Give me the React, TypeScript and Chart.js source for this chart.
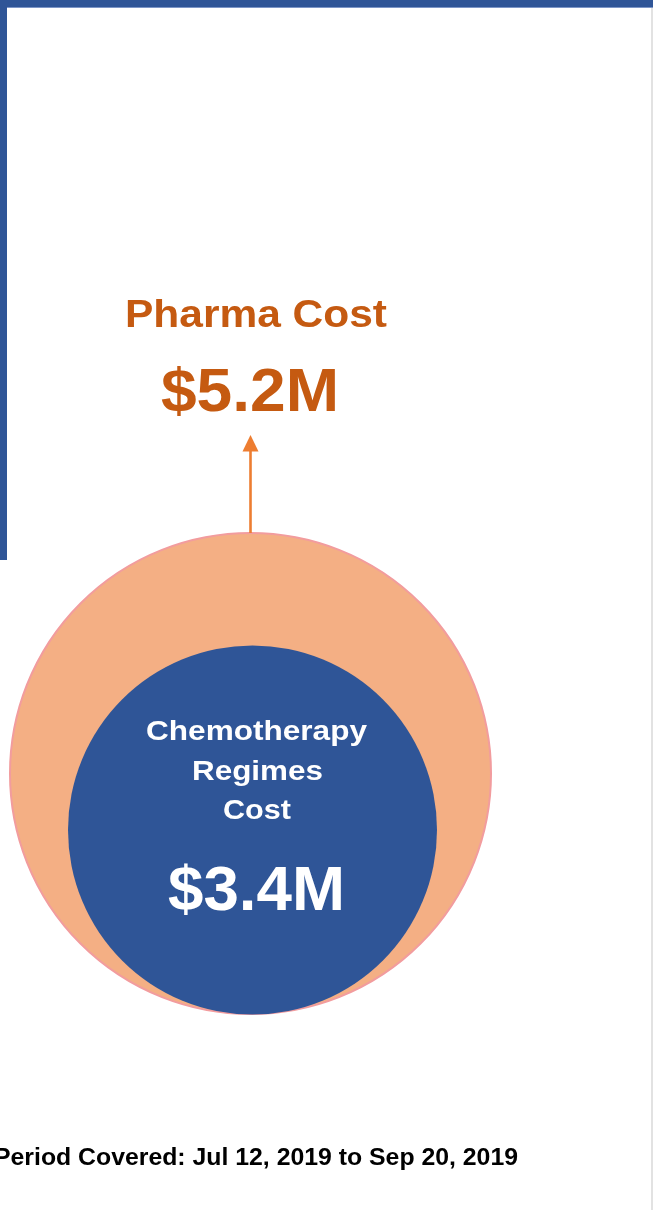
import React, { useEffect, useRef } from "react";
import { Chart, registerables } from "chart.js";

Chart.register(...registerables);

// ---- data ----
const categories = ["Pharma Cost", "Chemotherapy Regimes Cost"];
const values = [5.2, 3.4]; // in $M
const valueLabels = values.map((v) => `$${v.toFixed(1)}M`);
const titleLines = [["Pharma Cost"], ["Chemotherapy", "Regimes", "Cost"]];
const periodLabel = "Period Covered: Jul 12, 2019 to Sep 20, 2019";

// ---- layout / style (not data) ----
const W = 653;
const H = 1210;
const centers = [
  { x: 250.5, y: 773.5 },
  { x: 252.5, y: 830 },
];
const radii = [240.5, 184.5];
const fills = ["#F4AF84", "#2F5597"];
const borders = ["#F29C9E", "#2F5597"];
const FONT = '"Liberation Sans", Arial, Helvetica, sans-serif';

function drawFit(
  ctx: CanvasRenderingContext2D,
  text: string,
  left: number,
  right: number,
  baseline: number,
  size: number,
  color: string
) {
  ctx.save();
  ctx.font = `bold ${size}px ${FONT}`;
  ctx.fillStyle = color;
  ctx.textAlign = "left";
  ctx.textBaseline = "alphabetic";
  const w = ctx.measureText(text).width;
  ctx.translate(left, baseline);
  ctx.scale((right - left) / w, 1);
  ctx.fillText(text, 0, 0);
  ctx.restore();
}

const overlayPlugin = {
  id: "overlay",
  afterDatasetsDraw(chart: any) {
    const ctx: CanvasRenderingContext2D = chart.ctx;
    const outer = chart.getDatasetMeta(0).data[0];
    const outerR = radii[0];
    const topY = outer.y - outerR;

    // arrow
    ctx.save();
    ctx.strokeStyle = "#ED7D31";
    ctx.fillStyle = "#ED7D31";
    ctx.lineWidth = 2.6;
    ctx.beginPath();
    ctx.moveTo(outer.x, topY);
    ctx.lineTo(outer.x, 450);
    ctx.stroke();
    ctx.beginPath();
    ctx.moveTo(outer.x, 435);
    ctx.lineTo(outer.x - 8, 451.5);
    ctx.lineTo(outer.x + 8, 451.5);
    ctx.closePath();
    ctx.fill();
    ctx.restore();

    // outer labels
    drawFit(ctx, titleLines[0][0], 125, 387, 327, 38, "#C55A11");
    drawFit(ctx, valueLabels[0], 161, 339, 411, 62, "#C55A11");

    // inner labels
    drawFit(ctx, titleLines[1][0], 146, 367, 739.5, 28, "#FFFFFF");
    drawFit(ctx, titleLines[1][1], 192, 323, 780, 28, "#FFFFFF");
    drawFit(ctx, titleLines[1][2], 223, 291, 818.5, 28, "#FFFFFF");
    drawFit(ctx, valueLabels[1], 168, 345, 910, 63, "#FFFFFF");

    // period footer
    drawFit(ctx, periodLabel, -6, 518, 1165, 23, "#000000");
  },
};

export default function App() {
  const ref = useRef<HTMLCanvasElement | null>(null);

  useEffect(() => {
    if (!ref.current) return;
    const chart = new Chart(ref.current, {
      type: "scatter",
      data: {
        datasets: categories.map((label, i) => ({
          label,
          data: [{ x: centers[i].x, y: centers[i].y, v: values[i] } as any],
          pointRadius: radii[i],
          pointHoverRadius: radii[i],
          backgroundColor: fills[i],
          borderColor: borders[i],
          pointBorderWidth: i === 0 ? 2 : 0,
          borderWidth: i === 0 ? 2 : 0,
          order: i === 0 ? 2 : 1,
          clip: false as any,
        })),
      },
      options: {
        responsive: false,
        animation: false,
        devicePixelRatio: 1,
        layout: { padding: 0, autoPadding: false },
        events: [],
        plugins: {
          legend: { display: false },
          tooltip: { enabled: false },
        },
        scales: {
          x: { type: "linear", display: false, min: 0, max: W },
          y: { type: "linear", display: false, min: 0, max: H, reverse: true },
        },
      },
      plugins: [overlayPlugin],
    });
    return () => chart.destroy();
  }, []);

  return (
    <div
      style={{
        position: "absolute",
        left: 0,
        top: 0,
        width: W,
        height: H,
        background: "#ffffff",
        overflow: "hidden",
      }}
    >
      <canvas
        ref={ref}
        width={W}
        height={H}
        style={{ position: "absolute", left: 0, top: 0, width: W, height: H }}
      />
      <div style={{ position: "absolute", left: 0, top: 0, width: W, height: 7, background: "#2F5597" }} />
      <div style={{ position: "absolute", left: 7, top: 7, width: W - 7, height: 1, background: "#7C95C6" }} />
      <div style={{ position: "absolute", left: 0, top: 0, width: 7, height: 560, background: "#2F5597" }} />
      <div style={{ position: "absolute", left: 651, top: 8, width: 2, height: H - 8, background: "#E2E2E2" }} />
    </div>
  );
}
